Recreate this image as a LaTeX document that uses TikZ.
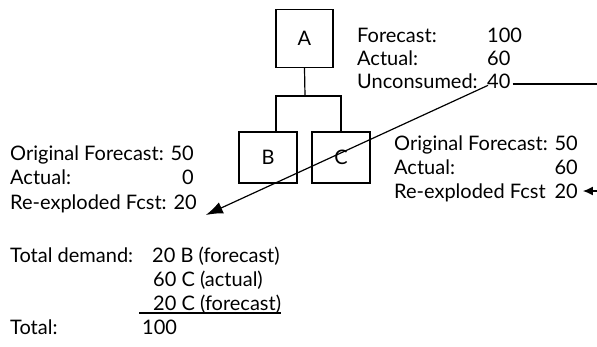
\documentclass[tikz,border=0pt]{standalone}
\usepackage{fontspec}
\setmainfont{Lato}
\usetikzlibrary{arrows.meta}
\begin{document}
\begin{tikzpicture}[x=1pt,y=-1pt,
  txt/.style={inner sep=0pt,anchor=base west,font=\fontsize{20}{20}\selectfont},
  txtr/.style={inner sep=0pt,anchor=base east,font=\fontsize{20}{20}\selectfont},
  boxnode/.style={draw,line width=1.3pt,minimum width=57pt,minimum height=58pt,inner sep=0pt,font=\fontsize{20}{20}\selectfont},
  smallbox/.style={draw,line width=1.3pt,minimum width=58pt,minimum height=51pt,inner sep=0pt,font=\fontsize{20}{20}\selectfont},
  wire/.style={line width=1.2pt},
  bigarr/.style={line width=1.2pt,-{Latex[length=17pt,width=12pt]}},
  smallarr/.style={line width=1.2pt,-{Latex[length=10pt,width=9pt]}}]
\useasboundingbox (0,0) rectangle (597,346);
% boxes
\node[boxnode] (A) at (304.5,38.5) {A};
\node[smallbox] (B) at (268,157.5) {B};
\node[smallbox] (C) at (341,157.5) {C};
\coordinate (j) at (305,96);
\draw[wire] (A.south) -- (j);
\draw[wire] (j) -| ([xshift=8pt]B.north);
\draw[wire] (j) -| (C.north);
% A text
\node[txt] (fa) at (357,42) {Forecast:};
\node[txt] (aa) at (357,65) {Actual:};
\node[txt] (ua) at (357,88) {Unconsumed:};
\node[txt] (fv) at (487,42) {100};
\node[txt] (av) at (487,65) {60};
\node[txt] (uv) at (487,88) {40};
\coordinate (redge) at (598,84);
\draw[wire] ([xshift=2pt]uv.east |- redge) -- (redge);
% B text
\node[txt] (l1) at (10,160) {Original Forecast: 50};
\node[txt] (l2) at (10,184) {Actual:};
\node[txtr] (l2v) at (l1.base east |- 0,184) {0};
\node[txt] (l3) at (10,209) {Re-exploded Fcst: 20};
% C text
\node[txt] (r1) at (394,150) {Original Forecast: 50};
\node[txt] (r2) at (394,174) {Actual:};
\node[txtr] (r2v) at (r1.base east |- 0,174) {60};
\node[txt] (r3) at (394,198) {Re-exploded Fcst};
\node[txtr] (r3v) at (r1.base east |- 0,198) {20};
% arrows
\coordinate (lt) at ([xshift=9pt,yshift=-6pt]l3.base east);
\draw[bigarr] ([xshift=1pt,yshift=3pt]uv.south west) -- (lt);
\coordinate (redge2) at (598,191);
\draw[smallarr] (redge2) -- ([xshift=5pt]r3v.east |- redge2);
% totals
\node[txt] (td) at (10,262) {Total demand:};
\node[txt] (t1) at (152,262) {20 B (forecast)};
\node[txt] (t2) at (153,286) {60 C (actual)};
\node[txt] (t3) at (153,310) {20 C (forecast)};
\draw[wire] (139,313) -- (t3.base east |- 0,313);
\node[txt] (tt) at (10,334) {Total:};
\node[txt] (tv) at (142,334) {100};
\end{tikzpicture}
\end{document}
